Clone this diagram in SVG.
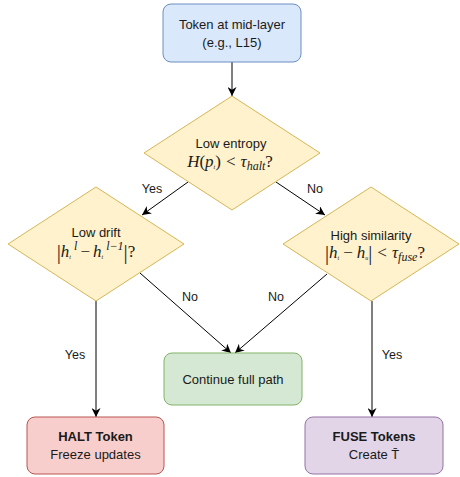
<svg xmlns="http://www.w3.org/2000/svg" width="460" height="477" viewBox="0 0 460 477">
<defs>
<marker id="arr" viewBox="0 0 10 10" refX="10" refY="5" markerWidth="9" markerHeight="9" markerUnits="userSpaceOnUse" orient="auto">
<path d="M0,0 L10,5 L0,10 L3,5 z" fill="#000"/>
</marker>
<style>
.t{font-family:"Liberation Sans",Arial,sans-serif;font-size:13px;fill:#1a1a1a;text-anchor:middle}
.b{font-weight:bold}
.m{font-family:"Liberation Serif","Times New Roman",serif;font-size:17px;fill:#1a1a1a;text-anchor:middle}
.i{font-style:italic}
.e{stroke:#000;stroke-width:1;fill:none;marker-end:url(#arr)}
.lbl{font-family:"Liberation Sans",Arial,sans-serif;font-size:12.5px;fill:#1a1a1a;text-anchor:middle}
</style>
</defs>
<rect width="460" height="477" fill="#fff"/>
<g id="edges">
<line class="e" x1="232" y1="62" x2="232" y2="96"/>
<line class="e" x1="188" y1="182" x2="142" y2="215"/>
<line class="e" x1="276" y1="182" x2="325" y2="215"/>
<line class="e" x1="140" y1="273" x2="231" y2="353"/>
<line class="e" x1="327" y1="274" x2="235" y2="353"/>
<line class="e" x1="96" y1="301" x2="96" y2="417"/>
<line class="e" x1="372" y1="301" x2="372" y2="417"/>
<text class="lbl" x="152" y="193">Yes</text>
<text class="lbl" x="315" y="193">No</text>
<text class="lbl" x="190" y="301">No</text>
<text class="lbl" x="276" y="301">No</text>
<text class="lbl" x="75" y="359">Yes</text>
<text class="lbl" x="392" y="359">Yes</text>
</g>
<g id="start">
<rect x="163" y="4" width="138" height="58" rx="8" fill="#dae8fc" stroke="#6c8ebf"/>
<text class="t" x="232" y="29">Token at mid-layer</text>
<text class="t" x="232" y="47">(e.g., L15)</text>
</g>
<g id="entropy">
<polygon points="232,96 320,153 232,210 144,153" fill="#fff2cc" stroke="#d6b656"/>
<text class="t" x="231" y="148">Low entropy</text>
<text class="m" x="230" y="167"><tspan class="i">H</tspan>(<tspan class="i">p</tspan><tspan class="i" font-size="6" dy="2">t</tspan><tspan dy="-2">)</tspan><tspan dx="5">&lt;</tspan><tspan class="i" dx="5">τ</tspan><tspan class="i" font-size="12" dy="3">halt</tspan><tspan dy="-3">?</tspan></text>
</g>
<g id="drift">
<polygon points="96,187 184,244 96,301 8,244" fill="#fff2cc" stroke="#d6b656"/>
<text class="t" x="96" y="237">Low drift</text>
<text class="m" x="96" y="257"><tspan font-size="21" dy="2">|</tspan><tspan class="i" dy="-2">h</tspan><tspan class="i" font-size="6" dy="2">t</tspan><tspan class="i" font-size="12" dy="-9"> l</tspan><tspan dy="7" dx="3">−</tspan><tspan class="i" dx="3">h</tspan><tspan class="i" font-size="6" dy="2">t</tspan><tspan class="i" font-size="12" dy="-9"> l−1</tspan><tspan font-size="21" dy="9">|</tspan><tspan dy="-2">?</tspan></text>
</g>
<g id="similarity">
<polygon points="371,187 459,244 371,301 283,244" fill="#fff2cc" stroke="#d6b656"/>
<text class="t" x="371" y="240">High similarity</text>
<text class="m" x="375" y="258"><tspan font-size="20" dy="2">|</tspan><tspan class="i" dy="-2">h</tspan><tspan class="i" font-size="6" dy="2">t</tspan><tspan dy="-2" dx="4">−</tspan><tspan class="i" dx="4">h</tspan><tspan class="i" font-size="6" dy="2">u</tspan><tspan font-size="20">|</tspan><tspan dy="-2" dx="5">&lt;</tspan><tspan class="i" dx="5">τ</tspan><tspan class="i" font-size="12" dy="3">fuse</tspan><tspan dy="-3">?</tspan></text>
</g>
<g id="continue">
<rect x="164" y="353" width="138" height="52" rx="8" fill="#d5e8d4" stroke="#82b366"/>
<text class="t" x="233" y="384">Continue full path</text>
</g>
<g id="halt">
<rect x="27" y="417" width="137" height="57" rx="8" fill="#f8cecc" stroke="#b85450"/>
<text class="t b" x="95.5" y="441">HALT Token</text>
<text class="t" x="95.5" y="459">Freeze updates</text>
</g>
<g id="fuse">
<rect x="305" y="417" width="138" height="57" rx="8" fill="#e1d5e7" stroke="#9673a6"/>
<text class="t b" x="374" y="441">FUSE Tokens</text>
<text class="t" x="374" y="459">Create T̄</text>
</g>
</svg>
